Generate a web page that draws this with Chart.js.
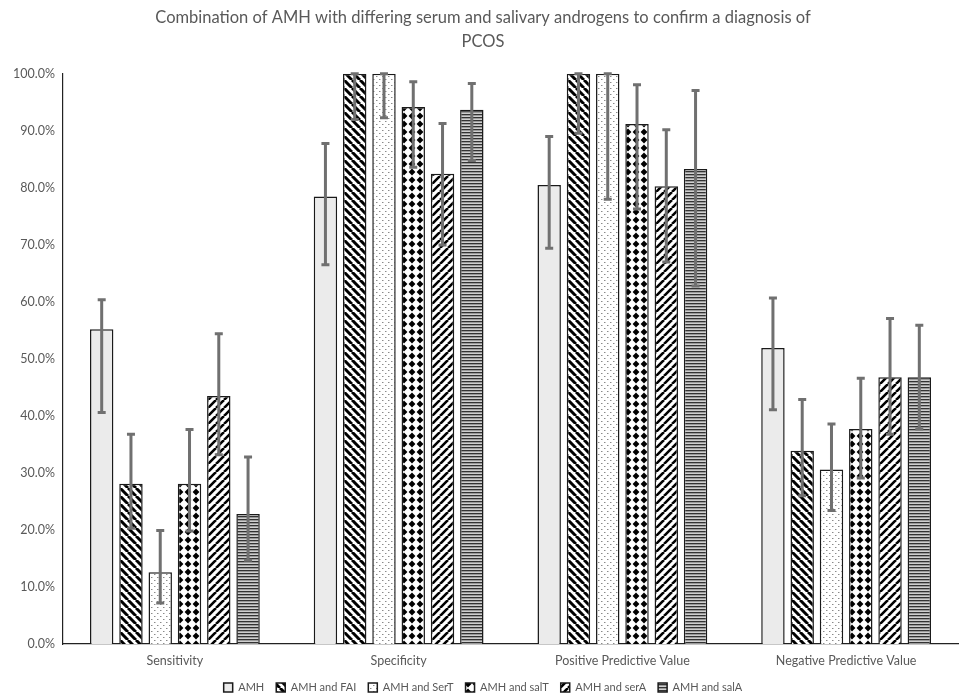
<!DOCTYPE html>
<html>
<head>
<meta charset="utf-8">
<script src="https://cdn.jsdelivr.net/npm/chart.js@4"></script>
<style>
  html, body { margin: 0; padding: 0; background: #fff; }
  #wrap { width: 962px; height: 693px; }
</style>
</head>
<body>
<div id="wrap"><canvas id="chart" width="962" height="693"></canvas></div>
<script>
// categories and tick labels
const categories = ['Sensitivity', 'Specificity', 'Positive Predictive Value', 'Negative Predictive Value'];
const seriesNames = ['AMH', 'AMH and FAI', 'AMH and SerT', 'AMH and salT', 'AMH and serA', 'AMH and salA'];
const yTicks = [0, 10, 20, 30, 40, 50, 60, 70, 80, 90, 100];

// bar values (%), one array per series
const amh     = [55.2, 78.5, 80.5, 51.9];
const amhFai  = [28.1, 100, 100, 33.9];
const amhSerT = [12.6, 100, 100, 30.6];
const amhSalT = [28.1, 94.2, 91.2, 37.7];
const amhSerA = [43.5, 82.5, 80.3, 46.8];
const amhSalA = [22.8, 93.7, 83.3, 46.8];

// error bar limits (%)
const amhLow      = [40.6, 66.5, 69.4, 41.1];
const amhHigh     = [60.4, 87.8, 89.0, 60.7];
const amhFaiLow   = [20.3, 92.0, 89.6, 26.0];
const amhFaiHigh  = [36.8, 100, 100, 42.9];
const amhSerTLow  = [7.2, 92.3, 78.0, 23.4];
const amhSerTHigh = [19.9, 100, 100, 38.6];
const amhSalTLow  = [19.8, 83.6, 76.3, 29.1];
const amhSalTHigh = [37.6, 98.6, 98.1, 46.6];
const amhSerALow  = [33.2, 70.0, 67.0, 36.8];
const amhSerAHigh = [54.4, 91.3, 90.2, 57.1];
const amhSalALow  = [14.7, 84.8, 62.8, 37.7];
const amhSalAHigh = [32.8, 98.3, 97.1, 55.9];

// pattern helpers
function makeTile(w, h, draw) {
    const c = document.createElement('canvas');
    c.width = w;
    c.height = h;
    const g = c.getContext('2d');
    g.fillStyle = '#fff';
    g.fillRect(0, 0, w, h);
    draw(g, w, h);
    return document.getElementById('chart').getContext('2d').createPattern(c, 'repeat');
}

function diagonal(dir, width) {
    return makeTile(8, 8, (g, w, h) => {
        g.strokeStyle = '#000';
        g.lineWidth = width;
        g.beginPath();
        for (let k = -1; k <= 1; k++) {
            if (dir > 0) { // "\" direction
                g.moveTo(k * w, 0);
                g.lineTo(k * w + w, h);
            } else {        // "/" direction
                g.moveTo(k * w, h);
                g.lineTo(k * w + w, 0);
            }
        }
        g.stroke();
    });
}

const patSolid = '#ebebeb';
const patFai = diagonal(1, 3);
const patSerT = makeTile(6, 6, (g) => {
    g.fillStyle = '#8a8a8a';
    g.fillRect(1, 1, 1, 1);
    g.fillRect(4, 4, 1, 1);
    g.fillStyle = '#c8c8c8';
    g.fillRect(2, 1, 1, 1);
    g.fillRect(5, 4, 1, 1);
});
const patSalT = makeTile(8, 8, (g) => {
    g.fillStyle = '#000';
    g.beginPath();
    g.moveTo(4, 0.6);
    g.lineTo(7.4, 4);
    g.lineTo(4, 7.4);
    g.lineTo(0.6, 4);
    g.closePath();
    g.fill();
});
const patSerA = diagonal(-1, 2.6);
const patSalA = makeTile(4, 3, (g) => {
    g.fillStyle = '#333';
    g.fillRect(0, 0, 4, 1);
    g.fillStyle = '#9a9a9a';
    g.fillRect(0, 1, 4, 1);
    g.fillStyle = '#cfcfcf';
    g.fillRect(0, 2, 4, 1);
});

const fills = [patSolid, patFai, patSerT, patSalT, patSerA, patSalA];
const values = [amh, amhFai, amhSerT, amhSalT, amhSerA, amhSalA];
const lows = [amhLow, amhFaiLow, amhSerTLow, amhSalTLow, amhSerALow, amhSalALow];
const highs = [amhHigh, amhFaiHigh, amhSerTHigh, amhSalTHigh, amhSerAHigh, amhSalAHigh];

// draws asymmetric error bars from lows/highs
const errorBars = {
    id: 'errorBars',
    afterDatasetsDraw(chart) {
        const ctx = chart.ctx;
        const y = chart.scales.y;
        ctx.save();
        ctx.strokeStyle = '#707070';
        ctx.lineWidth = 3;
        chart.data.datasets.forEach((ds, i) => {
            const meta = chart.getDatasetMeta(i);
            meta.data.forEach((bar, j) => {
                const yl = y.getPixelForValue(lows[i][j]);
                const yh = y.getPixelForValue(highs[i][j]);
                const x = bar.x;
                ctx.beginPath();
                ctx.moveTo(x, yl);
                ctx.lineTo(x, yh);
                ctx.moveTo(x - 4, yl);
                ctx.lineTo(x + 4, yl);
                ctx.moveTo(x - 4, yh);
                ctx.lineTo(x + 4, yh);
                ctx.stroke();
            });
        });
        ctx.restore();
    }
};

const fontFamily = 'Lato, "Open Sans", sans-serif';

new Chart(document.getElementById('chart'), {
    type: 'bar',
    data: {
        labels: categories,
        datasets: seriesNames.map((name, i) => ({
            label: name,
            data: values[i],
            backgroundColor: fills[i],
            borderColor: '#1a1a1a',
            borderWidth: 1.5,
            barPercentage: 0.8,
            categoryPercentage: 0.785
        }))
    },
    options: {
        responsive: false,
        animation: false,
        layout: { padding: { left: 8, right: 4, top: 0, bottom: -10 } },
        plugins: {
            title: {
                display: true,
                text: ['Combination of AMH with differing serum and salivary androgens to confirm a diagnosis of', 'PCOS'],
                color: '#595959',
                font: { family: fontFamily, size: 16.5, weight: 'normal', lineHeight: 1.45 },
                padding: { top: 6, bottom: 20 }
            },
            legend: {
                position: 'bottom',
                labels: {
                    color: '#595959',
                    font: { family: fontFamily, size: 11 },
                    boxWidth: 9,
                    boxHeight: 9,
                    padding: 12
                }
            },
            tooltip: { enabled: false }
        },
        scales: {
            x: {
                grid: { display: false },
                border: { color: '#222', width: 1.2 },
                afterFit: (scale) => { scale.height = 26; },
                ticks: { color: '#595959', font: { family: fontFamily, size: 12.5 }, padding: 1 }
            },
            y: {
                min: 0,
                max: 100,
                afterBuildTicks: (scale) => { scale.ticks = yTicks.map(v => ({ value: v })); },
                afterFit: (scale) => { scale.width = 55; },
                grid: { display: false },
                border: { color: '#222', width: 1.2 },
                ticks: {
                    color: '#595959',
                    font: { family: fontFamily, size: 12.5 },
                    padding: 0,
                    callback: (v) => v.toFixed(1) + '%'
                }
            }
        }
    },
    plugins: [errorBars]
});
</script>
</body>
</html>
